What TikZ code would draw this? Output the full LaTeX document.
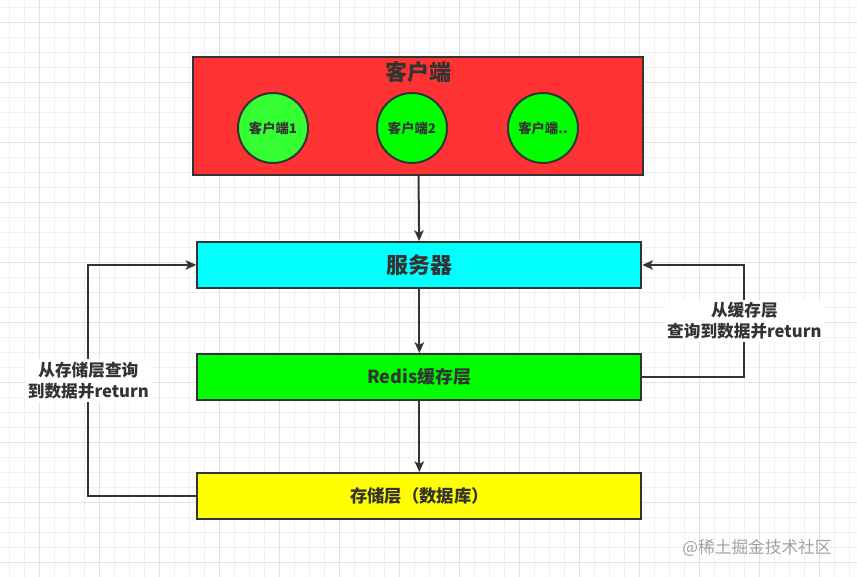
\documentclass[tikz,border=0pt]{standalone}
\usepackage{fontspec}
\setmainfont{Noto Sans CJK SC}
\usepackage{tikz}
\usetikzlibrary{arrows.meta,positioning}

\definecolor{clientred}{HTML}{FF3333}
\definecolor{lightgreen}{HTML}{33FF33}
\definecolor{puregreen}{HTML}{00FF00}
\definecolor{servercyan}{HTML}{00FFFF}
\definecolor{dbyellow}{HTML}{FFFF00}
\definecolor{ink}{HTML}{333333}
\definecolor{markgray}{HTML}{A0A0A0}
\definecolor{gridminor}{HTML}{F0F0F0}
\definecolor{gridmajor}{HTML}{E2E2E2}

\tikzset{
  layer/.style={draw=ink, line width=1.5pt, minimum width=333pt, minimum height=34.5pt, text=ink},
  clientnode/.style={circle, draw=ink, line width=1.5pt, minimum size=52.5pt, inner sep=0pt, text=ink,
    font=\bfseries\fontsize{10pt}{12pt}\selectfont},
  flow/.style={draw=ink, line width=1.5pt, -{Stealth[length=8pt,width=7pt,inset=2pt]}},
  note/.style={fill=white, align=center, text=ink, inner sep=2pt,
    font=\bfseries\fontsize{12.5pt}{15.5pt}\selectfont}
}

\begin{document}
\begin{tikzpicture}[x=0.75pt, y=0.75pt, node distance=48pt]
    \useasboundingbox (0,0) rectangle (857,577);
    % background grid
    \foreach \gx in {9,24,...,849} \draw[gridminor, line width=0.75pt] (\gx,0) -- (\gx,577);
    \foreach \gy in {14,29,...,569} \draw[gridminor, line width=0.75pt] (0,\gy) -- (857,\gy);
    \foreach \gx in {39,99,...,819} \draw[gridmajor, line width=0.75pt] (\gx,0) -- (\gx,577);
    \foreach \gy in {14,74,...,554} \draw[gridmajor, line width=0.75pt] (0,\gy) -- (857,\gy);

    \node (client) [draw=ink, line width=1.5pt, fill=clientred, minimum width=337.5pt, minimum height=88.5pt] at (418,461) {};
    \node (title) at ([yshift=-12pt]client.north) [text=ink, font=\bfseries\fontsize{16.5pt}{19pt}\selectfont] {客户端};
    \node (cl2) [clientnode, fill=puregreen] at (412,449) {客户端2};
    \node (cl1) [clientnode, fill=lightgreen, left=50.25pt of cl2] {客户端1};
    \node (cl3) [clientnode, fill=puregreen, right=44.25pt of cl2] {客户端..};

    \node [layer, fill=servercyan, below=48.75pt of client, xshift=1pt, font=\bfseries\fontsize{16.5pt}{19pt}\selectfont] (server) {服务器};
    \node [layer, fill=puregreen, below=48pt of server, font=\bfseries\fontsize{13.5pt}{16pt}\selectfont] (redis) {Redis缓存层};
    \node [layer, fill=dbyellow, below=53.25pt of redis, font=\bfseries\fontsize{13pt}{16pt}\selectfont] (storage) {存储层（数据库）};

    \draw[flow] (client) -- (server);
    \draw[flow] (server) -- (redis);
    \draw[flow] (redis) -- (storage);
    \draw[flow] (storage.west) -- ++(-81pt,0) |- node[note, pos=0.25] {从存储层查询\\到数据并return} (server.west);
    \draw[flow] (redis.east) -- ++(76.5pt,0) |- node[note, pos=0.25] {从缓存层\\查询到数据并return} (server.east);

    \node (mark) at (757,29) [text=markgray, font=\fontsize{12.5pt}{14pt}\selectfont] {@稀土掘金技术社区};
\end{tikzpicture}
\end{document}
